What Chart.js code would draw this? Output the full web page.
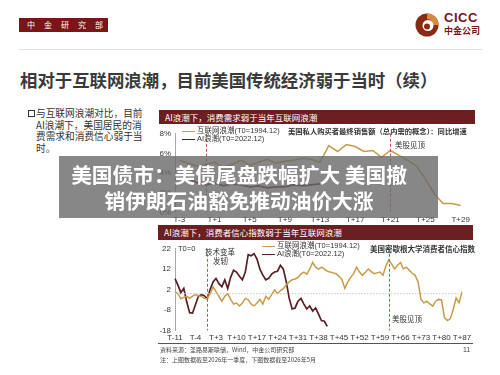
<!DOCTYPE html>
<html>
<head>
<meta charset="utf-8">
<script src="https://cdn.jsdelivr.net/npm/chart.js@4/dist/chart.umd.min.js"></script>
<style>
  body { margin:0; width:500px; height:375px; background:#fff; position:relative; overflow:hidden;
         font-family:"Noto Sans CJK SC", "Liberation Sans", sans-serif; color:#333; }
  .abs { position:absolute; white-space:nowrap; }
  canvas { position:absolute; }
  .bar { position:absolute; background:#6b1f21; color:#fff; font-size:8.5px; line-height:14px; padding-left:6px; box-sizing:border-box; }
  .lg { position:absolute; font-size:7.5px; line-height:9px; font-family:"Liberation Sans","Noto Sans CJK SC",sans-serif; color:#333; }
  .lg i { display:inline-block; width:13px; height:0; border-top:1.5px solid; vertical-align:middle; margin-right:2px; }
  .small { font-size:7.5px; color:#333; }
</style>
</head>
<body>
<!-- header -->
<div class="abs" style="left:19px;top:18px;width:89px;height:14px;background:#7b1517;color:#fff;font-size:8px;line-height:14px;letter-spacing:9px;padding-left:8px;box-sizing:border-box;">中金研究部</div>
<svg class="abs" style="left:414px;top:12px" width="26" height="26" viewBox="0 0 26 26">
  <circle cx="13" cy="13" r="11.5" fill="#8a2a14"/>
  <path d="M13 1.5 A11.5 11.5 0 0 1 24.5 13 L19 13 A6 6 0 0 0 13 7 Z" fill="#d58b3c"/>
  <circle cx="14" cy="13.5" r="5.5" fill="#fff"/>
  <circle cx="13" cy="14.5" r="3" fill="#8a2a14"/>
</svg>
<div class="abs" style="left:444px;top:10px;font-size:13px;font-weight:bold;color:#7b1517;font-family:'Liberation Sans',sans-serif;letter-spacing:0.5px;">CICC</div>
<div class="abs" style="left:444px;top:24px;font-size:9px;font-weight:bold;color:#7b1517;">中金公司</div>
<div class="abs" style="left:19px;top:49px;width:463px;height:1px;background:#e2e2e2;"></div>

<div class="abs" style="left:20px;top:67px;font-size:17.4px;font-weight:bold;color:#3a3a3a;">相对于互联网浪潮，目前美国传统经济弱于当时（续）</div>

<!-- left text -->
<div class="abs" style="left:28px;top:110px;width:5px;height:5px;border:1px solid #333;"></div>
<div class="abs" style="left:36px;top:108px;font-size:9.7px;line-height:11.5px;color:#333;">与互联网浪潮对比，目前<br>AI浪潮下，美国居民的消<br>费需求和消费信心弱于当<br>时。</div>

<!-- top chart -->
<div class="bar" style="left:159px;top:110px;width:316px;height:14px;">AI浪潮下，消费需求弱于当年互联网浪潮</div>
<canvas id="c1" width="345" height="103" style="left:140px;top:125px;"></canvas>
<div class="lg" style="left:182px;top:126px;"><i style="border-color:#c89b4a"></i>互联网浪潮(T0=1994.12)</div>
<div class="lg" style="left:182px;top:134px;"><i style="border-color:#5a1f24"></i>AI浪潮(T0=2022.12)</div>
<div class="abs small" style="left:288px;top:126px;font-size:7.3px;font-weight:bold;">美国私人购买者最终销售额（总内需的概念）：同比增速</div>
<div class="abs small" style="left:395px;top:139px;">美股见顶</div>

<!-- bottom chart -->
<div class="bar" style="left:158px;top:225px;width:315px;height:15px;">AI浪潮下，消费者信心指数弱于当年互联网浪潮</div>
<canvas id="c2" width="345" height="106" style="left:140px;top:240px;"></canvas>
<div class="lg" style="left:262px;top:241px;"><i style="border-color:#c89b4a"></i>互联网浪潮(T0=1994.12)</div>
<div class="lg" style="left:262px;top:249px;"><i style="border-color:#5a1f24"></i>AI浪潮(T0=2022.12)</div>
<div class="abs small" style="left:370px;top:243px;font-weight:bold;">美国密歇根大学消费者信心指数</div>
<div class="abs small" style="left:178px;top:244px;font-family:'Liberation Sans',sans-serif;">T0=0</div>
<div class="abs small" style="left:205px;top:246px;">技术变革</div>
<div class="abs small" style="left:213px;top:255px;">发轫</div>
<div class="abs small" style="left:392px;top:313px;">美股见顶</div>

<!-- footer -->
<div class="abs" style="left:158px;top:343px;width:315px;height:1px;background:#555;"></div>
<div class="abs" style="left:160px;top:345px;font-size:6px;color:#444;">资料来源：圣路易斯联储，Wind，中金公司研究部</div>
<div class="abs" style="left:160px;top:355px;font-size:6px;color:#444;">注：上图数据截至2026年一季度，下图数据截至2026年5月</div>
<div class="abs" style="left:463px;top:346px;font-size:7px;color:#444;font-family:'Liberation Sans',sans-serif;">11</div>

<!-- overlay banner -->
<div class="abs" style="left:59px;top:156px;width:379px;height:62px;background:rgba(105,105,105,0.8);"></div>
<div class="abs" style="left:58px;top:161px;width:362px;text-align:center;color:#fff;font-weight:bold;font-size:20.7px;line-height:26px;">美国债市：美债尾盘跌幅扩大 美国撤<br>销伊朗石油豁免推动油价大涨</div>

<script>
// 上图：季度，T-3 ~ T+29
const topLabels = ['T-3','T-2','T-1','T+0','T+1','T+2','T+3','T+4','T+5','T+6','T+7','T+8','T+9','T+10','T+11','T+12','T+13',
  'T+14','T+15','T+16','T+17','T+18','T+19','T+20','T+21','T+22','T+23','T+24','T+25','T+26','T+27','T+28','T+29'];
const topDotcom = [5.3,5.0,4.7,4.9,5.1,4.6,4.9,5.3,4.8,5.1,5.4,5.0,5.2,5.3,5.5,5.4,5.1,
  6.8,6.2,6.9,6.7,6.2,6.3,5.6,6.3,5.8,5.3,4.7,3.4,1.9,0.9,0.9,0.7];
const topAI = [3.8,3.5,3.0,2.8,3.0,2.7,2.9,2.8,2.6,2.7,2.5,2.6,2.6,2.8,2.7,2.8,2.9];
const topYTicks = [0,2,4,6,8];

// 下图：月度，T-11 ~ T+87
const botLabels = ['T-11','T-10','T-9','T-8','T-7','T-6','T-5','T-4','T-3','T-2','T-1','T+0',
  'T+1','T+2','T+3','T+4','T+5','T+6','T+7','T+8','T+9','T+10','T+11','T+12','T+13','T+14','T+15','T+16','T+17','T+18','T+19','T+20',
  'T+21','T+22','T+23','T+24','T+25','T+26','T+27','T+28','T+29','T+30','T+31','T+32','T+33','T+34','T+35','T+36','T+37','T+38','T+39','T+40',
  'T+41','T+42','T+43','T+44','T+45','T+46','T+47','T+48','T+49','T+50','T+51','T+52','T+53','T+54','T+55','T+56','T+57','T+58','T+59','T+60',
  'T+61','T+62','T+63','T+64','T+65','T+66','T+67','T+68','T+69','T+70','T+71','T+72','T+73','T+74','T+75','T+76','T+77','T+78','T+79','T+80',
  'T+81','T+82','T+83','T+84','T+85','T+86','T+87'];
const botDotcom = [1.0,0.0,-2.5,-1.8,-1.3,-2.3,-1.2,-0.4,-1.0,-1.3,-2.3,-2.5,
  0.0,3.4,1.0,-1.3,-3.7,-1.3,0.0,-2.8,-5.1,-4.6,-6.0,-4.6,-2.3,-3.0,-5.1,-6.0,-4.6,-2.8,-5.1,-1.3,
  -2.8,-0.5,1.9,0.0,1.5,2.5,4.4,5.8,6.8,7.2,8.0,9.6,10.6,9.6,12.0,15.3,13.0,12.0,13.0,12.0,
  11.0,10.6,10.2,9.8,8.5,7.0,2.6,5.8,8.0,9.8,13.0,10.6,9.0,10.5,12.1,10.8,9.8,10.2,10.6,9.0,
  13.5,16.5,14.5,12.1,13.9,15.3,12.1,13.0,11.5,10.0,9.0,5.8,-2.8,-4.5,-3.7,-5.0,-6.1,-3.7,-2.8,-3.0,
  -11.7,-13.2,-12.3,-7.6,-2.1,-4.5,1.0];
const botAI = [7.4,4.2,0.5,2.6,-4.0,-9.3,-9.5,-5.3,-1.3,-0.5,-1.0,-2.5,
  2.0,5.8,7.5,4.9,3.4,6.8,2.5,8.0,11.5,10.6,8.5,6.8,10.6,19.1,18.6,19.6,17.0,12.0,9.1,6.8,
  7.5,9.6,10.6,11.0,13.9,12.0,5.8,-2.3,-7.5,-7.0,-3.7,-2.3,-5.1,-7.5,-6.0,-8.5,-7.0,-10.0,-13.2,-13.5,-16.0];
const botYTicks = [-18,-8,2,12,22];

const GOLD = '#c89b4a', DARK = '#5a1f24', RED = '#d0504a';

// 竖虚线 + 水平点线
const refLines = {
  id: 'refLines',
  afterDatasetsDraw(chart, args, opts) {
    const {ctx, chartArea, scales} = chart;
    ctx.save();
    if (opts.h !== undefined) {
      const y = scales.y.getPixelForValue(opts.h);
      ctx.strokeStyle = '#c8c8c8'; ctx.lineWidth = 1; ctx.setLineDash([1.5, 1.5]);
      ctx.beginPath(); ctx.moveTo(chartArea.left, y); ctx.lineTo(chartArea.right, y); ctx.stroke();
    }
    (opts.v || []).forEach(lab => {
      const x = Math.round(scales.x.getPixelForValue(chart.data.labels.indexOf(lab))) + 0.5;
      ctx.strokeStyle = RED; ctx.lineWidth = 1; ctx.setLineDash([3, 2]);
      ctx.beginPath(); ctx.moveTo(x, chartArea.top); ctx.lineTo(x, chartArea.bottom); ctx.stroke();
    });
    ctx.restore();
  }
};

const tickFont = {family: 'Liberation Sans', size: 8};

function makeChart(id, labels, d1, d2, y, every, offset, yFmt, padRight, vlines, hline) {
  return new Chart(document.getElementById(id), {
    type: 'line',
    data: {
      labels: labels,
      datasets: [
        {data: d1, borderColor: GOLD, borderWidth: 1.5},
        {data: d2, borderColor: DARK, borderWidth: 1.7}
      ]
    },
    options: {
      responsive: false, animation: false, devicePixelRatio: 1,
      elements: {point: {radius: 0}, line: {tension: 0}},
      layout: {padding: {top: 6, right: padRight, bottom: 0, left: 0}},
      plugins: {legend: {display: false}, tooltip: {enabled: false},
                refLines: {v: vlines, h: hline}},
      scales: {
        x: {
          offset: offset,
          grid: {display: false, drawTicks: false},
          border: {display: false},
          ticks: {autoSkip: false, maxRotation: 0, padding: 3, color: '#333', font: tickFont,
                  callback: (v, i) => i % every === 0 ? labels[i] : ''}
        },
        y: {
          min: y[0], max: y[y.length - 1],
          afterBuildTicks: s => { s.ticks = y.map(v => ({value: v})); },
          afterFit: s => { s.width = 35; },
          grid: {display: false, drawTicks: false},
          border: {display: true, color: '#aaa'},
          ticks: {padding: 4, color: '#333', font: tickFont, callback: yFmt}
        }
      }
    },
    plugins: [refLines]
  });
}

makeChart('c1', topLabels, topDotcom, topAI, topYTicks, 4, true, v => v + '%', 20, ['T+0', 'T+21']);
makeChart('c2', botLabels, botDotcom, botAI, botYTicks, 7, false, v => v, 23, ['T+0', 'T+62'], 0);
</script>
</body>
</html>
